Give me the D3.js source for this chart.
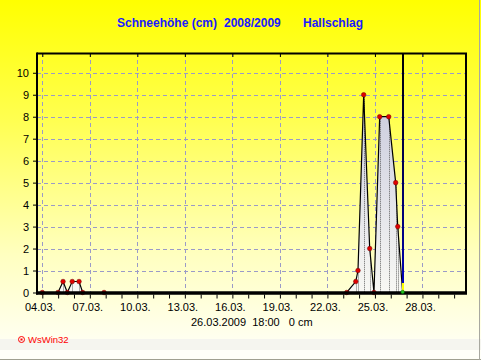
<!DOCTYPE html>
<html><head><meta charset="utf-8">
<script src="https://cdn.jsdelivr.net/npm/d3@7"></script>
<style>
html,body{margin:0;padding:0;background:#fff;}
svg{display:block;}
text{font-family:"Liberation Sans",Arial,sans-serif;}
</style></head>
<body>
<script>
// ---- data ----
const days   = [4.0, 4.99, 5.31, 5.58, 5.89, 6.32, 6.55, 7.9, 23.22, 23.79, 23.93, 24.29, 24.67, 24.94, 25.30, 25.87, 26.31, 26.44, 26.75];
const values = [0,   0,    0.5,  0,    0.5,  0.5,  0,    0,   0,     0.5,   1,     9,     2,     0,     8,     8,     5,     3,     0];
const xTickDays   = [4, 7, 10, 13, 16, 19, 22, 25, 28];
const xTickLabels = ["04.03.", "07.03.", "10.03.", "13.03.", "16.03.", "19.03.", "22.03.", "25.03.", "28.03."];
const yTicks = [0,1,2,3,4,5,6,7,8,9,10];
const currentDay = 26.75;
const titleParts = ["Schneehöhe (cm)", "2008/2009", "Hallschlag"];
const footerText = "26.03.2009  18:00   0 cm";
const logoText = "WsWin32";

const W = 481, H = 361;
const L = 37, R = 466, T = 53, B = 292.5;

const svg = d3.select("body").append("svg").attr("width", W).attr("height", H);
const defs = svg.append("defs");

const bg = defs.append("linearGradient").attr("id","bg").attr("gradientUnits","userSpaceOnUse")
  .attr("x1",0).attr("y1",0).attr("x2",0).attr("y2",340);
bg.append("stop").attr("offset","0").attr("stop-color","#ffff00");
bg.append("stop").attr("offset","0.35").attr("stop-color","#ffff50");
bg.append("stop").attr("offset","0.75").attr("stop-color","#ffffc0");
bg.append("stop").attr("offset","1").attr("stop-color","#fffff0");

const af = defs.append("linearGradient").attr("id","af").attr("gradientUnits","userSpaceOnUse")
  .attr("x1",0).attr("y1",90).attr("x2",0).attr("y2",292);
af.append("stop").attr("offset","0").attr("stop-color","#c8cadc");
af.append("stop").attr("offset","1").attr("stop-color","#f8f8f4");

const vl = defs.append("linearGradient").attr("id","vl").attr("gradientUnits","userSpaceOnUse")
  .attr("x1",0).attr("y1",T).attr("x2",0).attr("y2",283);
vl.append("stop").attr("offset","0").attr("stop-color","#000000");
vl.append("stop").attr("offset","0.85").attr("stop-color","#000090");
vl.append("stop").attr("offset","1").attr("stop-color","#0000c0");

// background
svg.append("rect").attr("x",0).attr("y",0).attr("width",W).attr("height",339).attr("fill","url(#bg)");
svg.append("rect").attr("x",0).attr("y",339).attr("width",W).attr("height",11).attr("fill","#f5f5ef");
svg.append("rect").attr("x",0).attr("y",350).attr("width",W).attr("height",9).attr("fill","#fffff8");
svg.append("line").attr("x1",0).attr("x2",W).attr("y1",359.5).attr("y2",359.5).attr("stroke","#a0a090").attr("stroke-width",1);
svg.append("line").attr("x1",479.5).attr("x2",479.5).attr("y1",0).attr("y2",360).attr("stroke","#a8a8a0").attr("stroke-width",1);

const x = d3.scaleLinear().domain([3.665, 30.75]).range([L, R]);
const y = d3.scaleLinear().domain([0, 10.9]).range([B, T]);

// title
const title = svg.append("text").attr("y",27).attr("fill","#1a1aff").attr("font-weight","bold").attr("font-size",12);
title.append("tspan").attr("x",117).text(titleParts[0]);
title.append("tspan").attr("x",224).text(titleParts[1]);
title.append("tspan").attr("x",303).text(titleParts[2]);

// grid
const g = svg.append("g");
g.selectAll(".hg").data(yTicks.filter(d=>d>0)).join("line")
  .attr("x1",L).attr("x2",R).attr("y1",d=>Math.round(y(d))+0.5).attr("y2",d=>Math.round(y(d))+0.5)
  .attr("stroke","#9a9ac8").attr("stroke-dasharray","4,3");
g.selectAll(".vg").data(xTickDays).join("line")
  .attr("x1",d=>Math.round(x(d))+0.5).attr("x2",d=>Math.round(x(d))+0.5).attr("y1",T).attr("y2",B)
  .attr("stroke","#9a9ac8").attr("stroke-dasharray","4,3");

// area + line
const pts = days.map((d,i)=>({d, v: values[i]}));
const area = d3.area().x(p=>x(p.d)).y0(y(0)).y1(p=>y(p.v));
const line = d3.line().x(p=>x(p.d)).y(p=>y(p.v));
g.append("path").datum(pts).attr("d",area).attr("fill","url(#af)");
// dotted droplines
g.selectAll(".dl").data(pts.filter(p=>p.v>0)).join("line")
  .attr("x1",p=>Math.round(x(p.d))+0.5).attr("x2",p=>Math.round(x(p.d))+0.5).attr("y1",p=>y(p.v)).attr("y2",y(0))
  .attr("stroke","#404040").attr("stroke-dasharray","1,1").attr("stroke-width",1).attr("opacity",0.8);
g.append("path").datum(pts).attr("d",line).attr("fill","none").attr("stroke","#000").attr("stroke-width",1.2);

// current line
const cx = Math.round(x(currentDay));
svg.append("line").attr("x1",cx).attr("x2",cx).attr("y1",T).attr("y2",283)
  .attr("stroke","url(#vl)").attr("stroke-width",2);
svg.append("line").attr("x1",cx).attr("x2",cx).attr("y1",283).attr("y2",B)
  .attr("stroke","#ffff00").attr("stroke-width",2);

// frame
svg.append("line").attr("x1",L).attr("x2",R+1).attr("y1",T+0.5).attr("y2",T+0.5).attr("stroke","#000").attr("stroke-width",2);
svg.append("line").attr("x1",R).attr("x2",R).attr("y1",T).attr("y2",B).attr("stroke","#000").attr("stroke-width",2);
svg.append("line").attr("x1",L).attr("x2",L).attr("y1",T-0.5).attr("y2",B+2).attr("stroke","#000").attr("stroke-width",2);
svg.append("line").attr("x1",L-1).attr("x2",R+1).attr("y1",B+0.5).attr("y2",B+0.5).attr("stroke","#000").attr("stroke-width",3.5);

// x axis (daily ticks below, major ticks at top)
const xAxis = d3.axisBottom(x).tickValues(d3.range(4, 31)).tickSize(4).tickFormat("");
const xa = svg.append("g").attr("transform",`translate(0,${B+2})`).call(xAxis);
xa.select(".domain").remove();
xa.selectAll(".tick line").attr("stroke","#000");
const xTop = d3.axisBottom(x).tickValues(xTickDays).tickSize(3).tickFormat("");
const xt = svg.append("g").attr("transform",`translate(0,${T+1})`).call(xTop);
xt.select(".domain").remove();
xt.selectAll(".tick line").attr("stroke","#000");

svg.append("g").selectAll("text").data(xTickDays).join("text")
  .attr("x",(d)=>x(d)-2).attr("y",311).attr("text-anchor","middle")
  .attr("font-size",11).attr("fill","#000").text((d,i)=>xTickLabels[i]);

// y axis
const yAxis = d3.axisLeft(y).tickValues(yTicks).tickSize(3).tickPadding(4).tickFormat(d3.format("d"));
const ya = svg.append("g").attr("transform",`translate(${L-1},0)`).call(yAxis);
ya.select(".domain").remove();
ya.selectAll(".tick line").attr("stroke","#000");
ya.selectAll(".tick text").attr("font-size",11).attr("fill","#000")
  .attr("font-family","'Liberation Sans',Arial,sans-serif");

// dots
g.selectAll(".dot").data(pts.slice(0,-1)).join("circle")
  .attr("cx",p=>x(p.d)).attr("cy",p=>y(p.v)).attr("r",2.3)
  .attr("fill","#e00000").attr("stroke","#700000").attr("stroke-width",0.5);
const last = pts[pts.length-1];
svg.append("circle").attr("cx",x(last.d)).attr("cy",y(last.v)-0.5).attr("r",1.8)
  .attr("fill","#20c020").attr("stroke","#006000").attr("stroke-width",0.5);

// footer
svg.append("text").attr("x",191).attr("y",326).attr("font-size",11).attr("fill","#000")
  .attr("xml:space","preserve").style("white-space","pre").text(footerText);

// logo
const lg = svg.append("g");
lg.append("circle").attr("cx",21.5).attr("cy",339.5).attr("r",3).attr("fill","none").attr("stroke","#ff0000").attr("stroke-width",1);
lg.append("rect").attr("x",20.5).attr("y",338.5).attr("width",2).attr("height",2).attr("fill","#ff0000");
lg.append("text").attr("x",28).attr("y",343).attr("font-size",9.5).attr("fill","#ff0000").text(logoText);
</script>
</body></html>
